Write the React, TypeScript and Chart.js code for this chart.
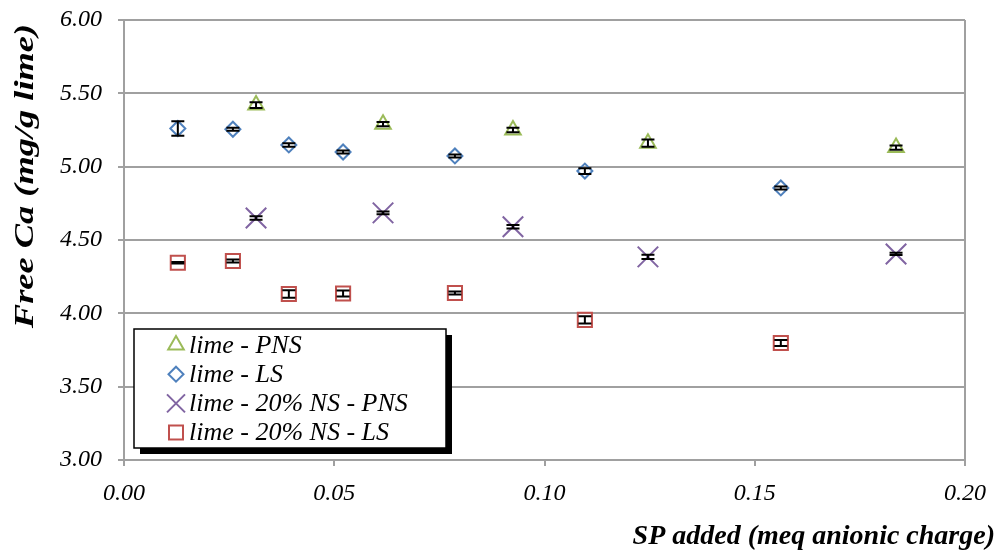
import React, { useEffect, useRef } from "react";
import { Chart, registerables } from "chart.js";

Chart.register(...registerables);

const pnsX = [0.0314, 0.0616, 0.0925, 0.1246, 0.1836];
const limePnsY = [5.42, 5.29, 5.25, 5.16, 5.13];
const limePnsErr = [0.02, 0.015, 0.015, 0.025, 0.015];
const nsPnsY = [4.65, 4.685, 4.59, 4.385, 4.405];
const nsPnsErr = [0.012, 0.01, 0.012, 0.015, 0.008];

const lsX = [0.0128, 0.0259, 0.0392, 0.0521, 0.0787, 0.1096, 0.1562];
const limeLsY = [5.26, 5.255, 5.148, 5.1, 5.073, 4.97, 4.855];
const limeLsErr = [0.05, 0.01, 0.012, 0.01, 0.01, 0.02, 0.01];
const nsLsY = [4.345, 4.357, 4.132, 4.135, 4.139, 3.955, 3.798];
const nsLsErr = [0.005, 0.01, 0.025, 0.02, 0.01, 0.025, 0.02];

const seriesNames = ["lime - PNS", "lime - LS", "lime - 20% NS - PNS", "lime - 20% NS - LS"];
const seriesColors = ["#9BBB59", "#4F81BD", "#8064A2", "#C0504D"];
const xTicks = [0, 0.05, 0.1, 0.15, 0.2];
const yTitle = "Free Ca (mg/g lime)";
const xTitle = "SP added (meq anionic charge)";

const GRID = "#a0a0a0";
const SERIF = "'Liberation Serif', 'Times New Roman', serif";

function pts(xs: number[], ys: number[]) {
  return xs.map((x, i) => ({ x, y: ys[i] }));
}

const errs = [limePnsErr, limeLsErr, nsPnsErr, nsLsErr];

function drawMarker(ctx: CanvasRenderingContext2D, style: number, x: number, y: number) {
  ctx.save();
  ctx.strokeStyle = seriesColors[style];
  ctx.lineWidth = 2;
  ctx.beginPath();
  if (style === 0) {
    const r = 9;
    ctx.moveTo(x, y - r);
    ctx.lineTo(x + r * 0.866, y + r * 0.5);
    ctx.lineTo(x - r * 0.866, y + r * 0.5);
    ctx.closePath();
  } else if (style === 1) {
    const r = 7.5;
    ctx.moveTo(x, y - r);
    ctx.lineTo(x + r, y);
    ctx.lineTo(x, y + r);
    ctx.lineTo(x - r, y);
    ctx.closePath();
  } else if (style === 2) {
    const r = 9;
    ctx.moveTo(x - r, y - r);
    ctx.lineTo(x + r, y + r);
    ctx.moveTo(x + r, y - r);
    ctx.lineTo(x - r, y + r);
  } else {
    const r = 7;
    ctx.rect(x - r, y - r, 2 * r, 2 * r);
  }
  ctx.stroke();
  ctx.restore();
}

const overlayPlugin = {
  id: "overlay",
  afterDatasetsDraw(chart: any) {
    const ctx: CanvasRenderingContext2D = chart.ctx;
    const xs = chart.scales.x;
    const ys = chart.scales.y;
    ctx.save();
    ctx.strokeStyle = "#000";
    chart.data.datasets.forEach((ds: any, di: number) => {
      ds.data.forEach((p: any, i: number) => {
        const e = errs[di][i];
        const px = xs.getPixelForValue(p.x);
        const top = ys.getPixelForValue(p.y + e);
        const bot = ys.getPixelForValue(p.y - e);
        ctx.lineWidth = 2;
        ctx.beginPath();
        ctx.moveTo(px, top);
        ctx.lineTo(px, bot);
        ctx.moveTo(px - 6.5, top);
        ctx.lineTo(px + 6.5, top);
        ctx.moveTo(px - 6.5, bot);
        ctx.lineTo(px + 6.5, bot);
        ctx.stroke();
      });
    });
    ctx.restore();
  },
  afterDraw(chart: any) {
    const ctx: CanvasRenderingContext2D = chart.ctx;
    ctx.save();
    // axis titles
    ctx.fillStyle = "#000";
    ctx.font = `italic bold 28px ${SERIF}`;
    ctx.textAlign = "right";
    ctx.textBaseline = "middle";
    ctx.fillText(xTitle, 995, 537);
    ctx.translate(26, 176);
    ctx.rotate(-Math.PI / 2);
    ctx.scale(1.3, 1);
    ctx.textAlign = "center";
    ctx.fillText(yTitle, 0, 0);
    ctx.restore();

    // legend
    ctx.save();
    const lx = 134, ly = 329, lw = 312, lh = 119;
    ctx.fillStyle = "#000";
    ctx.fillRect(lx + 6, ly + 6, lw, lh);
    ctx.fillStyle = "#fff";
    ctx.fillRect(lx, ly, lw, lh);
    ctx.strokeStyle = "#000";
    ctx.lineWidth = 1.5;
    ctx.strokeRect(lx, ly, lw, lh);
    ctx.font = `italic 26px ${SERIF}`;
    ctx.textAlign = "left";
    ctx.textBaseline = "middle";
    seriesNames.forEach((name, i) => {
      const cy = 345 + i * 29.2;
      drawMarker(ctx, i, 176, cy);
      ctx.fillStyle = "#000";
      ctx.fillText(name, 189, cy + 1);
    });
    ctx.restore();
  },
};

export default function App() {
  const ref = useRef<HTMLCanvasElement>(null);
  useEffect(() => {
    if (!ref.current) return;
    const chart = new Chart(ref.current, {
      type: "scatter",
      data: {
        datasets: [
          {
            label: seriesNames[0],
            data: pts(pnsX, limePnsY),
            pointStyle: "triangle",
            pointRadius: 9,
            borderColor: seriesColors[0],
            backgroundColor: "transparent",
            borderWidth: 2,
          },
          {
            label: seriesNames[1],
            data: pts(lsX, limeLsY),
            pointStyle: "rectRot",
            pointRadius: 7.5,
            borderColor: seriesColors[1],
            backgroundColor: "transparent",
            borderWidth: 2,
          },
          {
            label: seriesNames[2],
            data: pts(pnsX, nsPnsY),
            pointStyle: "crossRot",
            pointRadius: 14.5,
            borderColor: seriesColors[2],
            backgroundColor: "transparent",
            borderWidth: 2,
          },
          {
            label: seriesNames[3],
            data: pts(lsX, nsLsY),
            pointStyle: "rect",
            pointRadius: 10,
            borderColor: seriesColors[3],
            backgroundColor: "transparent",
            borderWidth: 2,
          },
        ],
      },
      options: {
        responsive: false,
        animation: false,
        events: [],
        layout: { padding: { left: 0, right: 36, top: 20, bottom: 0 } },
        plugins: { legend: { display: false }, tooltip: { enabled: false } },
        scales: {
          x: {
            type: "linear",
            min: 0,
            max: 0.2,
            afterBuildTicks: (s: any) => {
              s.ticks = xTicks.map((v) => ({ value: v }));
            },
            afterFit: (s: any) => {
              s.height = 96;
              s.paddingLeft = 0;
              s.paddingRight = 0;
            },
            ticks: {
              callback: (v: any) => Number(v).toFixed(2),
              font: { family: SERIF, size: 24, style: "italic" },
              color: "#000",
              padding: 13,
              maxRotation: 0,
            },
            grid: {
              color: (c: any) => (c.index === 4 ? GRID : "rgba(0,0,0,0)"),
              lineWidth: 2,
              tickLength: 6,
              tickColor: GRID,
              drawOnChartArea: true,
            },
            border: { display: true, color: GRID, width: 2 },
          },
          y: {
            type: "linear",
            min: 3,
            max: 6,
            ticks: {
              stepSize: 0.5,
              callback: (v: any) => Number(v).toFixed(2),
              font: { family: SERIF, size: 24, style: "italic" },
              color: "#000",
              padding: 16,
            },
            afterFit: (s: any) => {
              s.width = 124;
              s.paddingTop = 0;
              s.paddingBottom = 0;
            },
            grid: {
              color: GRID,
              lineWidth: 2,
              tickLength: 6,
              tickColor: GRID,
            },
            border: { display: true, color: GRID, width: 2 },
          },
        },
      },
      plugins: [overlayPlugin],
    });
    return () => chart.destroy();
  }, []);
  return (
    <div style={{ position: "absolute", left: 0, top: 0, width: 1001, height: 556, background: "#fff" }}>
      <canvas ref={ref} width={1001} height={556} />
    </div>
  );
}
